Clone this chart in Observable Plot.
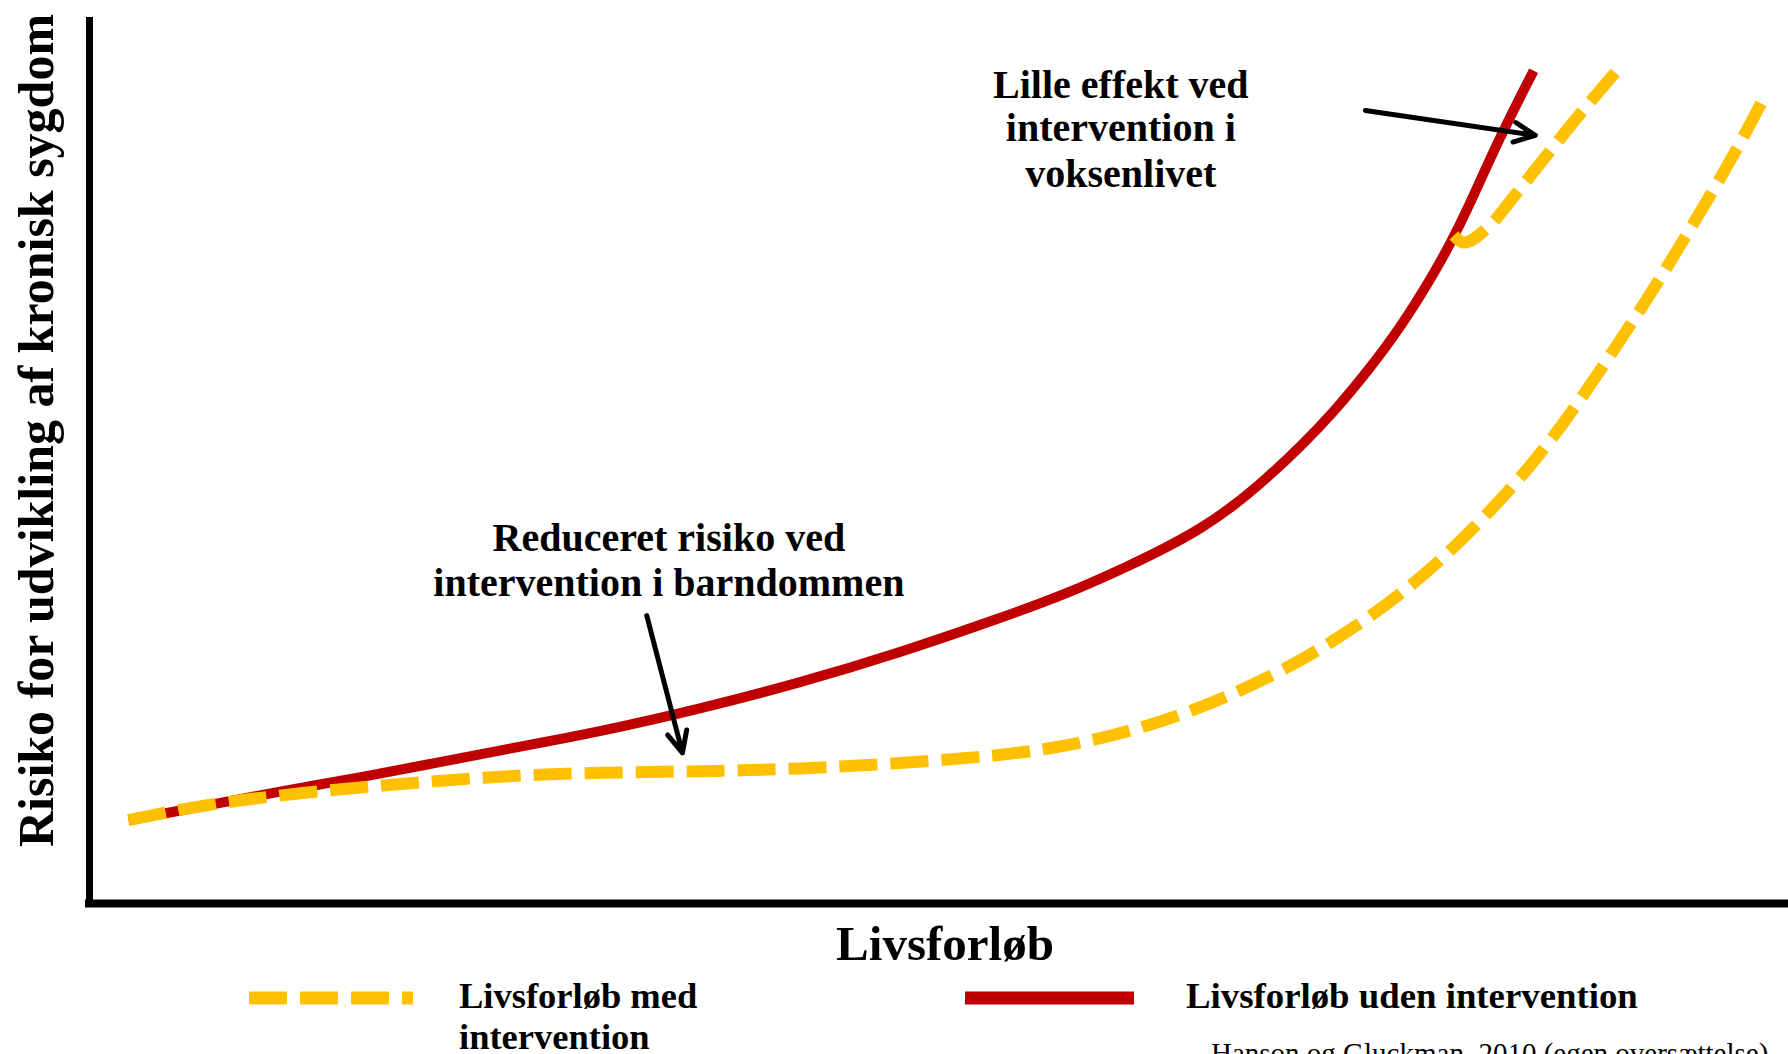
<!DOCTYPE html>
<html>
<head>
<meta charset="utf-8">
<script src="https://cdn.jsdelivr.net/npm/d3@7"></script>
<script src="https://cdn.jsdelivr.net/npm/@observablehq/plot@0.6"></script>
<style>
  html, body { margin: 0; padding: 0; background: #fff; }
  #wrap { position: relative; width: 1788px; height: 1054px; overflow: hidden; font-family: "Liberation Serif", serif; }
  #legend { position: absolute; left: 0; top: 975px; overflow: visible; }
</style>
</head>
<body>
<div id="wrap"></div>
<script>
// ---- Data (life course position 0–100, risk 0–100) ----
// Without intervention (solid red)
const lifeNoIntervention = [2.3, 6.5, 10.5, 16.4, 20.2, 24.2, 30.1, 36.0, 41.8, 47.7, 53.6, 57.6, 61.4, 63.4, 65.4, 67.3, 69.3, 71.3, 73.2, 75.2, 77.2, 79.1, 80.1, 81.1, 83.0, 85.0];
const riskNoIntervention = [9.4, 10.9, 12.4, 14.4, 15.8, 17.3, 19.4, 22.0, 24.9, 28.3, 32.2, 35.0, 38.3, 40.2, 42.3, 44.8, 48.0, 51.6, 55.4, 60.0, 65.1, 71.0, 74.5, 78.3, 86.5, 94.0];

// With intervention in childhood (dashed yellow)
const lifeChildIntervention = [2.3, 6.5, 12.4, 18.3, 24.2, 30.1, 36.0, 41.8, 47.7, 53.6, 56.6, 59.5, 62.4, 65.4, 68.3, 71.3, 74.2, 77.2, 80.1, 83.0, 85.0, 87.0, 88.9, 91.7, 94.4, 96.8, 98.6];
const riskChildIntervention = [9.4, 11.1, 12.5, 13.5, 14.4, 14.8, 14.9, 15.2, 15.8, 16.7, 17.5, 18.6, 20.1, 22.1, 24.5, 27.4, 30.8, 34.9, 39.7, 45.4, 49.8, 54.8, 60.1, 68.2, 76.7, 84.5, 91.1];

// With intervention in adulthood (dashed yellow branch)
const lifeAdultIntervention = [80.3, 80.9, 82.3, 84.0, 86.0, 87.9, 89.9];
const riskAdultIntervention = [75.4, 74.6, 76.3, 80.2, 85.0, 89.5, 94.0];

// Annotations
const annotationLines = ["Reduceret risiko ved", "intervention i barndommen", "Lille effekt ved", "intervention i", "voksenlivet"];
const annotationX = [34.1, 34.1, 60.7, 60.7, 60.7];
const annotationY = [41.2, 36.1, 92.4, 87.5, 82.3];

// Arrows (start -> end)
const arrowX1 = [32.8, 75.1];
const arrowY1 = [32.5, 89.5];
const arrowX2 = [34.9, 85.1];
const arrowY2 = [17.0, 86.7];

const xTitle = "Livsforløb";
const yTitle = "Risiko for udvikling af kronisk sygdom";
const legendLabels = ["Livsforløb med", "intervention", "Livsforløb uden intervention"];
const credit = "Hanson og Gluckman, 2010 (egen oversættelse)";

const RED = "#C00000";
const YELLOW = "#FFC000";

// ---- Tables built from the arrays ----
const redRows = lifeNoIntervention.map((x, i) => ({x, y: riskNoIntervention[i]}));
const childRows = lifeChildIntervention.map((x, i) => ({x, y: riskChildIntervention[i]}));
const adultRows = lifeAdultIntervention.map((x, i) => ({x, y: riskAdultIntervention[i]}));
const annotations = annotationLines.map((text, i) => ({text, x: annotationX[i], y: annotationY[i]}));
const arrows = arrowX1.map((x1, i) => ({x1, y1: arrowY1[i], x2: arrowX2[i], y2: arrowY2[i]}));

const chart = Plot.plot({
  width: 1788,
  height: 975,
  marginLeft: 89,
  marginRight: 0,
  marginTop: 17,
  marginBottom: 72,
  x: {domain: [0, 100], axis: null},
  y: {domain: [0, 100], axis: null},
  style: {fontFamily: "'Liberation Serif', serif", background: "#fff", overflow: "visible", color: "#000"},
  marks: [
    Plot.ruleX([0], {stroke: "#000", strokeWidth: 7}),
    Plot.ruleY([0], {stroke: "#000", strokeWidth: 8, insetLeft: -4}),
    Plot.line(redRows, {x: "x", y: "y", stroke: RED, strokeWidth: 10, curve: "basis", strokeLinecap: "butt"}),
    Plot.line(childRows, {x: "x", y: "y", stroke: YELLOW, strokeWidth: 12, strokeDasharray: "38,13", curve: "basis", strokeLinecap: "butt"}),
    Plot.line(adultRows, {x: "x", y: "y", stroke: YELLOW, strokeWidth: 12, strokeDasharray: "38,13", curve: "monotone-x", strokeLinecap: "butt"}),
    Plot.arrow(arrows, {x1: "x1", y1: "y1", x2: "x2", y2: "y2", stroke: "#000", strokeWidth: 5, headLength: 7, headAngle: 50}),
    Plot.text(annotations, {x: "x", y: "y", text: "text", fontSize: 40, fontWeight: "bold", fill: "#000"}),
    Plot.text([yTitle], {text: d => d, frameAnchor: "left", textAnchor: "middle", lineAnchor: "middle", rotate: -90, dx: -53, dy: -30, fontSize: 50, fontWeight: "bold", fill: "#000"}),
    Plot.text([xTitle], {text: d => d, frameAnchor: "bottom", textAnchor: "middle", lineAnchor: "middle", dx: 6, dy: 41, fontSize: 49, fontWeight: "bold", fill: "#000"})
  ]
});

const wrap = document.getElementById("wrap");
wrap.appendChild(chart);

// ---- Legend and credit below the plot ----
const leg = d3.select(wrap).append("svg")
  .attr("id", "legend")
  .attr("width", 1788)
  .attr("height", 79)
  .style("font-family", "'Liberation Serif', serif");

leg.append("line")
  .attr("x1", 249).attr("x2", 413).attr("y1", 23).attr("y2", 23)
  .attr("stroke", YELLOW).attr("stroke-width", 13).attr("stroke-dasharray", "38,13");
leg.append("text").attr("x", 459).attr("y", 33)
  .attr("font-size", 36.5).attr("font-weight", "bold").text(legendLabels[0]);
leg.append("text").attr("x", 459).attr("y", 74)
  .attr("font-size", 36.5).attr("font-weight", "bold").text(legendLabels[1]);

leg.append("line")
  .attr("x1", 965).attr("x2", 1134).attr("y1", 23).attr("y2", 23)
  .attr("stroke", RED).attr("stroke-width", 13);
leg.append("text").attr("x", 1186).attr("y", 33)
  .attr("font-size", 36.8).attr("font-weight", "bold").text(legendLabels[2]);

leg.append("text").attr("x", 1211).attr("y", 88)
  .attr("font-size", 29).text(credit);
</script>
</body>
</html>
